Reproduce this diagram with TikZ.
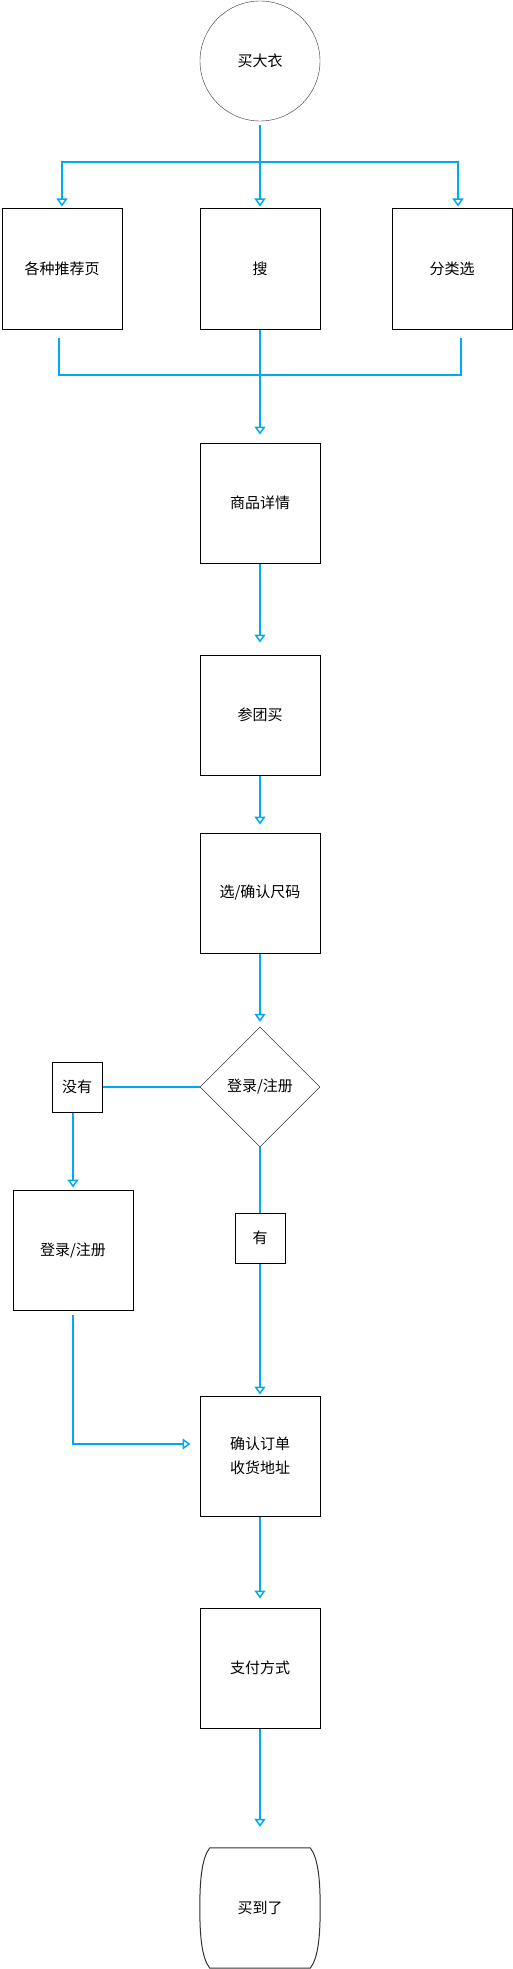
\documentclass[tikz,border=0pt]{standalone}
\usepackage{fontspec}
\setmainfont{Noto Sans CJK SC}
\usetikzlibrary{arrows.meta, shapes.geometric}
\definecolor{flow}{RGB}{0,170,238}

\begin{document}
\begin{tikzpicture}[x=1pt, y=-1pt, font=\fontsize{15}{18}\selectfont,
    box/.style={draw, line width=1pt, minimum size=120pt, inner sep=0pt},
    tag/.style={draw, line width=1pt, minimum size=50pt, inner sep=0pt},
    link/.style={draw=flow, line width=1.5pt},
    go/.style={link, -{Triangle[open, length=8pt, width=11pt]}, shorten >=8pt}]
  \useasboundingbox (0,0) rectangle (513,1969);
  \node[circle, draw=black!80, minimum size=120pt, inner sep=0pt] (buy) at (260,61) {买大衣};
  \node[box] (rec) at (62,269) {各种推荐页};
  \node[box] (search) at (260,269) {搜};
  \node[box] (cat) at (452,269) {分类选};
  \node[box] (detail) at (260,503) {商品详情};
  \node[box] (group) at (260,715) {参团买};
  \node[box] (size) at (260,893) {选/确认尺码};
  \node[diamond, draw, minimum width=120pt, minimum height=120pt, inner sep=0pt] (login) at (260,1087) {登录/注册};
  \node[tag] (no) at (77,1087) {没有};
  \node[box] (reg) at (73,1250) {登录/注册};
  \node[tag] (yes) at (260,1238) {有};
  \node[box, align=center, font=\fontsize{15}{24}\selectfont] (confirm) at (260,1456) {确认订单\\收货地址};
  \node[box] (pay) at (260,1668) {支付方式};
  \node[minimum size=120pt, inner sep=0pt] (done) at (260,1908) {买到了};
  \draw[draw=black!80, line width=1pt] ([xshift=-10pt]done.north east)
    .. controls ([shift={(-2pt,-10pt)}]done.north east) and ([yshift=28pt]done.east) .. (done.east)
    .. controls ([yshift=-28pt]done.east) and ([shift={(-2pt,10pt)}]done.south east) .. ([xshift=-10pt]done.south east)
    -- ([xshift=10pt]done.south west)
    .. controls ([shift={(2pt,10pt)}]done.south west) and ([yshift=-28pt]done.west) .. (done.west)
    .. controls ([yshift=28pt]done.west) and ([shift={(2pt,-10pt)}]done.north west) .. ([xshift=10pt]done.north west)
    -- cycle;
  \coordinate (fork) at (260,162);
  \coordinate (join) at (260,375);
  \draw[go, shorten <=4pt, shorten >=2pt] (buy) -- (search);
  \draw[go, shorten >=2pt] (fork) -| (rec);
  \draw[go, shorten >=2pt] (fork) -| ([xshift=6pt]cat.north);
  \draw[link] ([shift={(-3pt,-8pt)}]rec.south) |- (join) -| ([shift={(9pt,-8pt)}]cat.south);
  \draw[go] (search) -- (detail);
  \draw[go, shorten >=12pt] (detail) -- (group);
  \draw[go] (group) -- (size);
  \draw[go, shorten >=5pt] (size) -- (login);
  \draw[link] (login) -- (no);
  \draw[go, shorten >=2pt] (no.south -| reg.north) -- (reg);
  \draw[link] (login) -- (yes);
  \draw[go, shorten >=1pt] (yes) -- (confirm);
  \draw[go, shorten <=4pt, shorten >=9pt] (reg.south) |- ([yshift=12pt]confirm.west);
  \draw[go, shorten >=9pt] (confirm) -- (pay);
  \draw[go, shorten >=21pt] (pay) -- (done);
\end{tikzpicture}
\end{document}
